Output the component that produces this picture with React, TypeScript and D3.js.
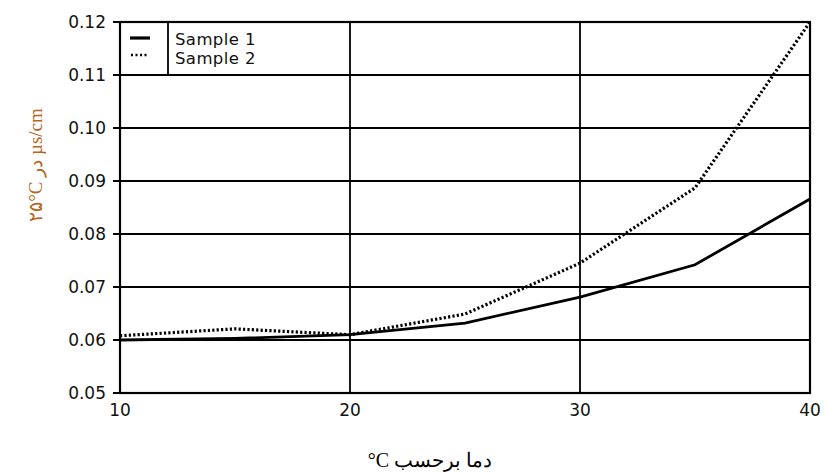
import React from "react";
import * as d3 from "d3";

const temps = [10, 15, 20, 25, 30, 35, 40];
const sample1 = [0.06, 0.0603, 0.061, 0.0632, 0.0681, 0.0742, 0.0866];
const sample2 = [0.0608, 0.0621, 0.061, 0.0649, 0.0745, 0.0887, 0.12];
const yTicks = [0.05, 0.06, 0.07, 0.08, 0.09, 0.1, 0.11, 0.12];
const xTicks = [10, 20, 30, 40];
const seriesNames = ["Sample 1", "Sample 2"];
const yLabel = "۲۵°C در µs/cm";
const xLabelUnit = "°C";
const xLabelText = "دما برحسب";

export default function App() {
  const W = 827, H = 472;
  const left = 120, right = 810, top = 22, bottom = 393;
  const x = d3.scaleLinear().domain([10, 40]).range([left, right]);
  const y = d3.scaleLinear().domain([0.05, 0.12]).range([bottom, top]);
  const line = d3
    .line<number>()
    .x((_, i) => x(temps[i]))
    .y((d) => y(d));
  const tickFont = "'DejaVu Sans', Verdana, sans-serif";
  const serif = "'Liberation Serif', 'DejaVu Serif', serif";
  return (
    <svg
      width={W}
      height={H}
      style={{ position: "absolute", left: 0, top: 0, background: "#fff" }}
    >
      {yTicks.map((t) => (
        <g key={"y" + t}>
          <line x1={left - 7} x2={right} y1={y(t)} y2={y(t)} stroke="#000" strokeWidth={1.8} />
          <text
            x={left - 14}
            y={y(t)}
            dy="0.36em"
            textAnchor="end"
            fontFamily={tickFont}
            fontSize={17}
            fill="#111"
          >
            {t.toFixed(2)}
          </text>
        </g>
      ))}
      {xTicks.map((t) => (
        <g key={"x" + t}>
          <line x1={x(t)} x2={x(t)} y1={top} y2={bottom} stroke="#000" strokeWidth={1.8} />
          <text
            x={x(t)}
            y={bottom + 23}
            textAnchor="middle"
            fontFamily={tickFont}
            fontSize={17}
            fill="#111"
          >
            {t}
          </text>
        </g>
      ))}
      <rect x={left} y={top} width={right - left} height={bottom - top} fill="none" stroke="#000" strokeWidth={2.2} />
      {/* legend */}
      <line x1={168} x2={168} y1={top} y2={y(0.11)} stroke="#000" strokeWidth={1.8} />
      <line x1={130} x2={150} y1={38} y2={38} stroke="#000" strokeWidth={3.2} />
      <line x1={131} x2={149} y1={55} y2={55} stroke="#000" strokeWidth={2.5} strokeDasharray="2,2.5" />
      <text x={175} y={45} fontFamily={tickFont} fontSize={16.5} fill="#111" letterSpacing={0.4}>
        {seriesNames[0]}
      </text>
      <text x={175} y={64} fontFamily={tickFont} fontSize={16.5} fill="#111" letterSpacing={0.4}>
        {seriesNames[1]}
      </text>
      {/* data */}
      <path d={line(sample1) || ""} fill="none" stroke="#000" strokeWidth={2.8} />
      <path
        d={line(sample2) || ""}
        fill="none"
        stroke="#000"
        strokeWidth={3.2}
        strokeDasharray="2.2,2.2"
      />
      {/* axis labels */}
      <text
        transform={`translate(42, 165) rotate(-90)`}
        textAnchor="middle"
        fontFamily={serif}
        fontSize={19}
        fill="#b5651d"
        direction="ltr"
      >
        {yLabel}
      </text>
      <text
        x={430}
        y={467}
        textAnchor="middle"
        fontFamily={serif}
        fontSize={20}
        fill="#000"
        direction="ltr"
      >
        {xLabelUnit + " " + xLabelText}
      </text>
    </svg>
  );
}
